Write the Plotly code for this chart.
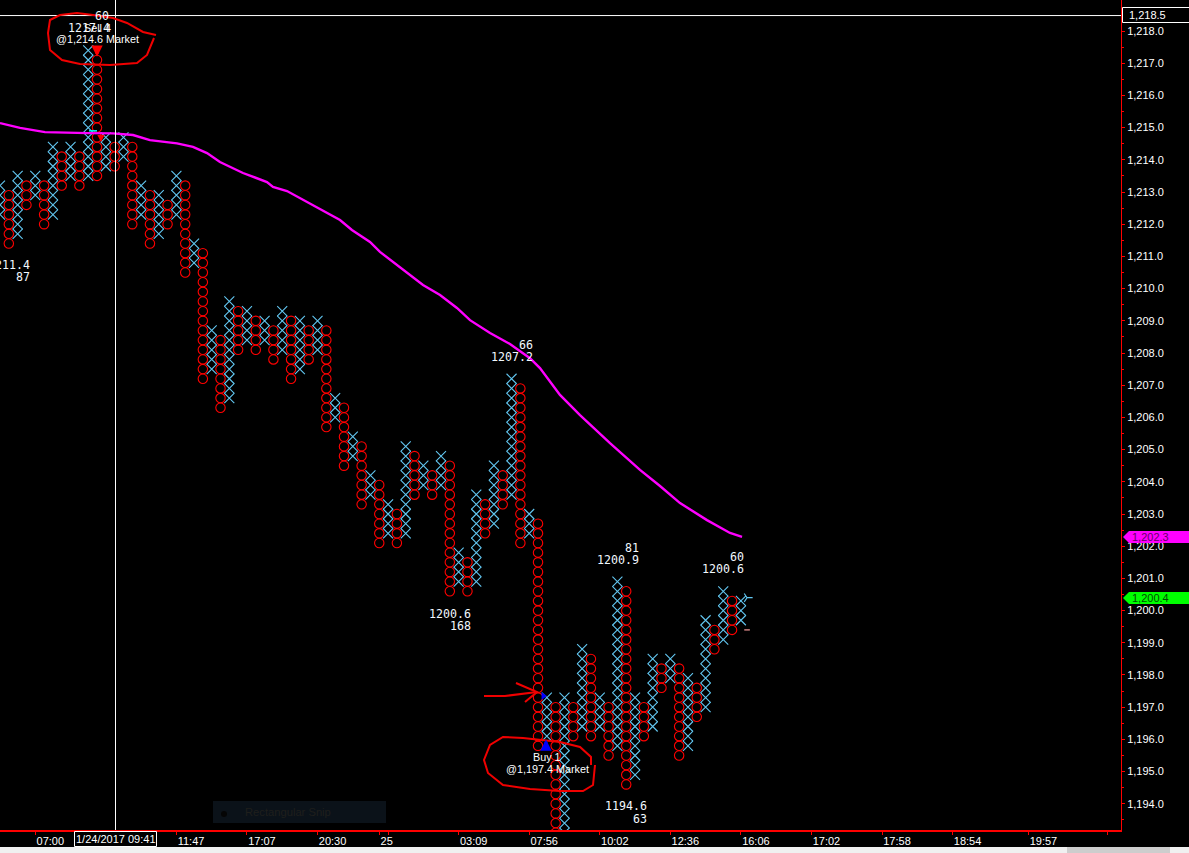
import plotly.graph_objects as go

W, H = 1189, 853
PLOT_R, PLOT_B = 1121, 830
COL_PX = 8.82
BOX = 0.3
Y_TOP = 1218.963
Y_BOTTOM = 1193.186

# Point & figure columns, in order, first column is an X column, they alternate
column_tops = [
    1213.2, 1212.9, 1213.5, 1213.2, 1213.5, 1213.2, 1214.4, 1214.1, 1214.4, 1214.1,
    1217.4, 1217.1, 1214.7, 1214.4, 1214.7, 1214.4, 1213.2, 1212.9, 1212.9, 1212.6,
    1213.5, 1213.2, 1211.4, 1211.1, 1208.7, 1208.4, 1209.6, 1209.3, 1209.3, 1209.0,
    1209.0, 1208.7, 1209.3, 1209.0, 1209.0, 1208.7, 1209.0, 1208.7, 1206.6, 1206.3,
    1205.4, 1205.1, 1204.2, 1203.9, 1203.3, 1203.0, 1205.1, 1204.8, 1204.5, 1204.2,
    1204.8, 1204.5, 1201.8, 1201.5, 1203.6, 1203.3, 1204.5, 1204.2, 1207.2, 1206.9,
    1203.0, 1202.7, 1197.3, 1197.0, 1197.3, 1197.0, 1198.8, 1198.5, 1197.3, 1197.0,
    1200.9, 1200.6, 1197.3, 1197.0, 1198.5, 1198.2, 1198.5, 1198.2, 1197.9, 1197.6,
    1199.7, 1199.4, 1200.6, 1200.3, 1200.3,
]
column_bottoms = [
    1212.3, 1211.4, 1211.7, 1212.6, 1212.9, 1212.0, 1212.3, 1213.2, 1213.5, 1213.2,
    1213.5, 1213.5, 1213.8, 1213.8, 1214.1, 1212.0, 1212.3, 1211.4, 1211.7, 1212.0,
    1212.3, 1210.5, 1210.8, 1207.2, 1207.5, 1206.3, 1206.6, 1208.1, 1208.4, 1208.1,
    1208.4, 1207.8, 1208.1, 1207.2, 1207.5, 1207.8, 1208.1, 1205.7, 1206.0, 1204.5,
    1204.8, 1203.3, 1203.6, 1202.1, 1202.4, 1202.1, 1202.4, 1203.6, 1203.9, 1203.6,
    1203.9, 1200.6, 1200.9, 1200.6, 1200.9, 1202.4, 1202.7, 1203.3, 1203.6, 1202.1,
    1202.4, 1195.8, 1196.1, 1193.1, 1193.1, 1196.1, 1196.4, 1196.1, 1196.4, 1195.5,
    1195.8, 1194.6, 1194.9, 1196.1, 1196.4, 1197.6, 1197.9, 1195.5, 1195.8, 1196.7,
    1197.0, 1198.8, 1199.1, 1199.4, 1199.7,
]
last_column = 84.7
last_price = 1200.4
stop_column = 84.7
stop_price = 1199.4

# Moving average
ma_columns = [
    0, 2.27, 5.1, 7.94, 9.98, 12.81, 15.08, 17.0, 20.07, 21.88, 23.47, 24.94, 27.55,
    30.27, 30.95, 32.54, 35.94, 38.55, 39.9, 41.95, 43.08, 45.69, 47.96, 49.89, 51.81,
    53.29, 55.56, 57.82, 60.09, 61.22, 63.49, 65.76, 69.16, 72.56, 74.83, 77.1, 80.16,
    82.77, 84.13,
]
ma_values = [
    1215.14, 1214.99, 1214.86, 1214.83, 1214.83, 1214.82, 1214.77, 1214.61, 1214.51,
    1214.40, 1214.21, 1213.93, 1213.59, 1213.31, 1213.16, 1213.03, 1212.53, 1212.13,
    1211.82, 1211.45, 1211.14, 1210.58, 1210.11, 1209.80, 1209.40, 1209.02, 1208.62,
    1208.28, 1207.84, 1207.53, 1206.70, 1206.07, 1205.20, 1204.37, 1203.87, 1203.34,
    1202.81, 1202.41, 1202.29,
]

# Axes
price_ticks = list(range(1194, 1219))
time_tick_columns = [4, 12, 20, 28, 36, 43, 44, 52, 60, 68, 76, 84, 92, 100, 108, 116.6, 125.6]
time_tick_labels = ["07:00", "", "11:47", "17:07", "20:30", "25", "", "03:09", "07:56",
                    "10:02", "12:36", "16:06", "17:02", "17:58", "18:54", "19:57", ""]

# Hand-drawn marks on the screenshot, in screen pixels
top_scribble = [(156, 35), (143, 32), (127, 23), (113, 18), (93, 15), (77, 13), (60, 15), (50, 20),
                (48, 33), (50, 50), (62, 60), (80, 64), (110, 65), (137, 63), (147, 55), (154, 38)]
bottom_scribble = [(591, 765), (591, 757), (580, 747), (560, 742), (523, 738), (503, 737), (490, 745),
                   (484, 760), (488, 773), (503, 785), (530, 789), (560, 791), (583, 791), (593, 785),
                   (595, 765)]
arrow_scribble = [(484, 696), (505, 696), (537, 692)]
arrow_head_scribble = [(516, 683), (537, 692), (525, 702)]

RED = "#ff0000"
CYAN = "#62c6f0"
MAGENTA = "#ff00ff"
GREEN = "#00ff00"


def px(x):
    return x / W


def py(y):
    return 1 - y / H


x_cols, x_lv, o_cols, o_lv = [], [], [], []
for i, (top, bottom) in enumerate(zip(column_tops, column_bottoms)):
    n = int(round((top - bottom) / BOX)) + 1
    levels = [round(top - BOX * k, 1) for k in range(n)]
    if i % 2 == 0:
        x_cols += [i] * n
        x_lv += levels
    else:
        o_cols += [i] * n
        o_lv += levels

fig = go.Figure()
fig.add_trace(go.Scatter(x=x_cols, y=x_lv, mode="markers", name="X",
                         marker=dict(symbol="x-thin-open", size=10, color=CYAN,
                                     line=dict(color=CYAN, width=1.1))))
fig.add_trace(go.Scatter(x=o_cols, y=o_lv, mode="markers", name="O",
                         marker=dict(symbol="circle-open", size=9.4, color=RED,
                                     line=dict(color=RED, width=1.1))))
fig.add_trace(go.Scatter(x=[last_column], y=[last_price], mode="markers", name="last",
                         marker=dict(symbol="y-right", size=7, color=CYAN,
                                     line=dict(color=CYAN, width=1.2))))
fig.add_trace(go.Scatter(x=[stop_column], y=[stop_price], mode="markers", name="stop",
                         marker=dict(symbol="line-ew", size=4, color="#ffa0a0",
                                     line=dict(color="#ffa0a0", width=1.2))))
fig.add_trace(go.Scatter(x=ma_columns, y=ma_values, mode="lines", name="MA",
                         line=dict(color=MAGENTA, width=2.4)))
fig.add_trace(go.Scatter(x=[61.6], y=[1197.35], mode="markers", name="entry",
                         marker=dict(symbol="triangle-right", size=7, color="#0000ff")))


def path(points, close=False):
    d = " ".join(("M" if i == 0 else "L") + f"{px(a):.5f},{py(b):.5f}" for i, (a, b) in enumerate(points))
    return d + (" Z" if close else "")


shapes = []
# crosshair
shapes.append(dict(type="line", xref="x", yref="paper", x0=13.095, x1=13.095, y0=py(PLOT_B), y1=1,
                   line=dict(color="white", width=1)))
shapes.append(dict(type="line", xref="paper", yref="y", x0=0, x1=px(PLOT_R), y0=1218.48, y1=1218.48,
                   line=dict(color="white", width=1)))
# cyan dash on moving average
shapes.append(dict(type="line", xref="x", yref="y", x0=10.1, x1=11, y0=1214.9, y1=1214.9,
                   line=dict(color="#00ffff", width=1.5)))
# ghost tooltip
shapes.append(dict(type="rect", xref="paper", yref="paper", x0=px(213), x1=px(386), y0=py(823), y1=py(801),
                   fillcolor="#0b1219", line=dict(width=0), layer="below"))
shapes.append(dict(type="circle", xref="paper", yref="paper", x0=px(221), x1=px(227), y0=py(817), y1=py(811),
                   fillcolor="#050505", line=dict(width=0), layer="below"))
# hand-drawn marks
for pts in (top_scribble, bottom_scribble, arrow_scribble, arrow_head_scribble):
    shapes.append(dict(type="path", xref="paper", yref="paper", path=path(pts),
                       line=dict(color="#f00000", width=2)))
# current value tags
for top, bottom, colour in ((531, 543, MAGENTA), (592, 604, GREEN)):
    shapes.append(dict(type="path", xref="paper", yref="paper",
                       path=path([(1123, (top + bottom) / 2), (1129, top), (1189, top), (1189, bottom), (1129, bottom)], True),
                       fillcolor=colour, line=dict(width=0)))
# crosshair value boxes
shapes.append(dict(type="rect", xref="paper", yref="paper", x0=px(1122.5), x1=px(1195), y0=py(22.5), y1=py(7.5),
                   fillcolor="black", line=dict(color="white", width=1)))
shapes.append(dict(type="rect", xref="paper", yref="paper", x0=px(74.5), x1=px(156.5), y0=py(846.5), y1=py(831.5),
                   fillcolor="black", line=dict(color="white", width=1)))
# bottom window strip
shapes.append(dict(type="rect", xref="paper", yref="paper", x0=0, x1=1, y0=0, y1=py(847),
                   fillcolor="#f0f0f0", line=dict(width=0)))
shapes.append(dict(type="rect", xref="paper", yref="paper", x0=px(1067), x1=px(1170), y0=0, y1=py(847),
                   fillcolor="#cdcdcd", line=dict(width=0)))

annotations = []
MONO = "DejaVu Sans Mono"
SANS = "Liberation Sans"


def label(x, y, text, anchor="right", font=MONO, size=11.6, color="#f2f8ff", **kw):
    annotations.append(dict(xref="paper", yref="paper", x=px(x), y=py(y), text=text, showarrow=False,
                            xanchor=anchor, yanchor="middle", font=dict(family=font, size=size, color=color),
                            **kw))


for x, y, text in ((32, 265, "1211.4"), (32, 277, "87"), (535, 345, "66"), (535, 357, "1207.2"),
                   (473, 614, "1200.6"), (473, 626, "168"), (641, 548, "81"), (641, 560, "1200.9"),
                   (746, 557, "60"), (746, 569, "1200.6"), (649, 806, "1194.6"), (649, 819, "63"),
                   (111, 16, "60"), (112, 28, "1217.4")):
    label(x, y, text)
label(97, 28, "Sell 4", "center", SANS, 10.8, "white")
label(97, 39, "@1,214.6 Market", "center", SANS, 10.8, "white")
label(547, 757, "Buy 1", "center", SANS, 10.8, "white")
label(547, 769, "@1,197.4 Market", "center", SANS, 10.8, "white")
label(243, 812, "Rectangular Snip", "left", SANS, 11.2, "#1f1f1c")

# crosshair value labels
label(1127, 15, "1,218.5", "left", SANS, 11, "white")
label(115.5, 839, "1/24/2017 09:41", "center", SANS, 11, "white")
# value tags
label(1130, 537, "1,202.3", "left", SANS, 11, "#660066")
label(1130, 598, "1,200.4", "left", SANS, 11, "#004c00")

# order arrows
for x0, y0, ay, colour, w, size in ((11, 1217.2, -12, RED, 3.5, 0.65), (11.45, 1214.55, -9, RED, 1.2, 1.2),
                                    (61.9, 1196.0, 12, "#0000ff", 3.5, 0.65)):
    annotations.append(dict(xref="x", yref="y", x=x0, y=y0, ax=0, ay=ay, axref="pixel", ayref="pixel", text="",
                            showarrow=True, arrowhead=2, arrowsize=size, arrowwidth=w, arrowcolor=colour))

fig.update_layout(
    width=W, height=H, margin=dict(l=0, r=0, t=0, b=0, pad=0), autosize=False,
    paper_bgcolor="black", plot_bgcolor="black", showlegend=False, hovermode=False,
    shapes=shapes, annotations=annotations,
    xaxis=dict(domain=[0, px(PLOT_R)], range=[0, PLOT_R / COL_PX], automargin=False, showgrid=False, zeroline=False,
               showline=True, linecolor=RED, linewidth=1.5, ticks="outside", ticklen=3, tickcolor=RED, tickwidth=1,
               tickmode="array", tickvals=time_tick_columns, ticktext=time_tick_labels,
               ticklabelposition="outside right", ticklabeloverflow="allow",
               tickfont=dict(family=SANS, size=11, color="white")),
    yaxis=dict(domain=[py(PLOT_B), 1], range=[Y_BOTTOM, Y_TOP], automargin=False, side="right", showgrid=False,
               zeroline=False, showline=True, linecolor=RED, linewidth=1, ticks="outside", ticklen=3,
               tickcolor=RED, tickwidth=1, tickmode="array", tickvals=price_ticks,
               ticktext=[f"{v:,.1f}" for v in price_ticks],
               minor=dict(dtick=0.5, ticks="outside", ticklen=2, tickcolor=RED, tickwidth=1, showgrid=False),
               tickfont=dict(family=SANS, size=11, color="white")),
)

fig.write_html("out.html", config={"displayModeBar": False},
               post_script="document.body.style.margin='0';document.body.style.overflow='hidden';")
